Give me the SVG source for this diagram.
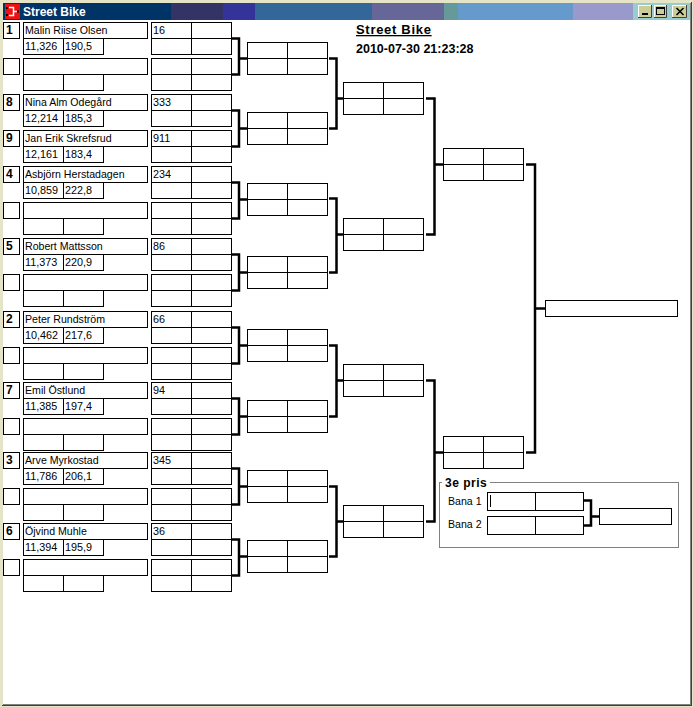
<svg xmlns="http://www.w3.org/2000/svg" xmlns:xlink="http://www.w3.org/1999/xlink" width="693" height="707" viewBox="0 0 693 707">
<style>
.b{fill:#fff;stroke:#000;stroke-width:1}
.l{fill:none;stroke:#000;stroke-width:1}
.c{fill:none;stroke:#000;stroke-width:2.5;stroke-linejoin:miter}
.t{font-family:"Liberation Sans",Arial,sans-serif;font-size:10.6px;fill:#000}
.n{font-family:"Liberation Sans",Arial,sans-serif;font-size:10.8px;fill:#000}
.s{font-family:"Liberation Sans",Arial,sans-serif;font-size:12px;font-weight:bold;fill:#000}
.btn{fill:#cccc99}
</style>
<defs>
<g id="ent">
<rect class="b" x="3.5" y="0.5" width="16" height="16"/>
<rect class="b" x="23.5" y="0.5" width="124" height="16"/>
<rect class="b" x="23.5" y="16.5" width="40" height="16"/>
<rect class="b" x="63.5" y="16.5" width="40" height="16"/>
<rect class="b" x="151.5" y="0.5" width="80" height="32"/>
<path class="l" d="M151.5,16.5H231.5M191.5,0.5V32.5"/>
</g>
<g id="rb">
<rect class="b" x="0.5" y="0.5" width="80" height="32"/>
<path class="l" d="M0.5,16.5H80.5M40.5,0.5V32.5"/>
</g>
</defs>

<!-- window chrome -->
<g id="window">
<rect x="0" y="0" width="693" height="707" fill="#e6e4c6"/>
<rect x="3" y="3" width="168" height="17" fill="#003366"/>
<rect x="171" y="3" width="52" height="17" fill="#333366"/>
<rect x="223" y="3" width="32" height="17" fill="#333399"/>
<rect x="255" y="3" width="117" height="17" fill="#336699"/>
<rect x="372" y="3" width="72" height="17" fill="#666699"/>
<rect x="444" y="3" width="14" height="17" fill="#669999"/>
<rect x="458" y="3" width="115" height="17" fill="#6699cc"/>
<rect x="573" y="3" width="60" height="17" fill="#9999cc"/>
<rect x="633" y="3" width="57" height="17" fill="#99cccc"/>
<rect x="5" y="4" width="15" height="15" fill="#ee1111"/>
<path d="M9,7.5H13.5V15.5H9M13.5,11.5H17" fill="none" stroke="#fff" stroke-width="1.5"/>
<rect x="6" y="7" width="2" height="2" fill="#000"/>
<rect x="6" y="14" width="2" height="2" fill="#000"/>
<rect x="17" y="10.5" width="2" height="2" fill="#000"/>
<text x="23" y="16" font-family="'Liberation Sans',Arial,sans-serif" font-size="12" font-weight="bold" fill="#fff">Street Bike</text>
<g id="btn-min">
<rect class="btn" x="638" y="5" width="14" height="13"/>
<path d="M638.5,17.5V5.5H651.5" fill="none" stroke="#fff"/>
<path d="M638,17.5H651.5V5" fill="none" stroke="#404040"/>
<rect x="642" y="13" width="6" height="2" fill="#000"/>
</g>
<g id="btn-max">
<rect class="btn" x="654" y="5" width="13" height="13"/>
<path d="M654.5,17.5V5.5H666.5" fill="none" stroke="#fff"/>
<path d="M654,17.5H666.5V5" fill="none" stroke="#404040"/>
<rect x="656.5" y="7.5" width="8" height="7" fill="none" stroke="#000"/>
<line x1="656.5" y1="8.5" x2="664.5" y2="8.5" stroke="#000"/>
</g>
<g id="btn-close">
<rect class="btn" x="672" y="5" width="15" height="13"/>
<path d="M672.5,17.5V5.5H686.5" fill="none" stroke="#fff"/>
<path d="M672,17.5H686.5V5" fill="none" stroke="#404040"/>
<path d="M676.5,8L683.5,15M683.5,8L676.5,15" fill="none" stroke="#000" stroke-width="1.6"/>
</g>
<rect x="3" y="20" width="687" height="684" fill="#fff"/>
<rect x="690" y="3" width="1" height="702" fill="#808080"/>
<rect x="691" y="2" width="1" height="704" fill="#404040"/>
<rect x="3" y="704" width="688" height="1" fill="#808080"/>
<rect x="2" y="705" width="690" height="1" fill="#404040"/>
</g>

<g id="header">
<text x="356" y="34" font-family="'Liberation Sans',Arial,sans-serif" font-size="13" font-weight="bold" letter-spacing="0.7" text-decoration="underline" fill="#000">Street Bike</text>
<text x="356" y="53" font-family="'Liberation Sans',Arial,sans-serif" font-size="12.5" font-weight="bold" fill="#000">2010-07-30 21:23:28</text>
</g>

<!-- entries -->
<g id="entry-1" transform="translate(0,22)"><use xlink:href="#ent"/><text class="s" x="6" y="12">1</text><text class="t" x="25" y="12">Malin Riise Olsen</text><text class="n" x="25" y="28">11,326</text><text class="n" x="65" y="28">190,5</text><text class="n" x="153" y="12">16</text></g>
<g id="entry-2" transform="translate(0,58)"><use xlink:href="#ent"/></g>
<g id="entry-3" transform="translate(0,94)"><use xlink:href="#ent"/><text class="s" x="6" y="12">8</text><text class="t" x="25" y="12">Nina Alm Odegård</text><text class="n" x="25" y="28">12,214</text><text class="n" x="65" y="28">185,3</text><text class="n" x="153" y="12">333</text></g>
<g id="entry-4" transform="translate(0,130)"><use xlink:href="#ent"/><text class="s" x="6" y="12">9</text><text class="t" x="25" y="12">Jan Erik Skrefsrud</text><text class="n" x="25" y="28">12,161</text><text class="n" x="65" y="28">183,4</text><text class="n" x="153" y="12">911</text></g>
<g id="entry-5" transform="translate(0,166)"><use xlink:href="#ent"/><text class="s" x="6" y="12">4</text><text class="t" x="25" y="12">Asbjörn Herstadagen</text><text class="n" x="25" y="28">10,859</text><text class="n" x="65" y="28">222,8</text><text class="n" x="153" y="12">234</text></g>
<g id="entry-6" transform="translate(0,202)"><use xlink:href="#ent"/></g>
<g id="entry-7" transform="translate(0,238)"><use xlink:href="#ent"/><text class="s" x="6" y="12">5</text><text class="t" x="25" y="12">Robert Mattsson</text><text class="n" x="25" y="28">11,373</text><text class="n" x="65" y="28">220,9</text><text class="n" x="153" y="12">86</text></g>
<g id="entry-8" transform="translate(0,274)"><use xlink:href="#ent"/></g>
<g id="entry-9" transform="translate(0,311)"><use xlink:href="#ent"/><text class="s" x="6" y="12">2</text><text class="t" x="25" y="12">Peter Rundström</text><text class="n" x="25" y="28">10,462</text><text class="n" x="65" y="28">217,6</text><text class="n" x="153" y="12">66</text></g>
<g id="entry-10" transform="translate(0,347)"><use xlink:href="#ent"/></g>
<g id="entry-11" transform="translate(0,382)"><use xlink:href="#ent"/><text class="s" x="6" y="12">7</text><text class="t" x="25" y="12">Emil Östlund</text><text class="n" x="25" y="28">11,385</text><text class="n" x="65" y="28">197,4</text><text class="n" x="153" y="12">94</text></g>
<g id="entry-12" transform="translate(0,418)"><use xlink:href="#ent"/></g>
<g id="entry-13" transform="translate(0,452)"><use xlink:href="#ent"/><text class="s" x="6" y="12">3</text><text class="t" x="25" y="12">Arve Myrkostad</text><text class="n" x="25" y="28">11,786</text><text class="n" x="65" y="28">206,1</text><text class="n" x="153" y="12">345</text></g>
<g id="entry-14" transform="translate(0,488)"><use xlink:href="#ent"/></g>
<g id="entry-15" transform="translate(0,523)"><use xlink:href="#ent"/><text class="s" x="6" y="12">6</text><text class="t" x="25" y="12">Öjvind Muhle</text><text class="n" x="25" y="28">11,394</text><text class="n" x="65" y="28">195,9</text><text class="n" x="153" y="12">36</text></g>
<g id="entry-16" transform="translate(0,559)"><use xlink:href="#ent"/></g>

<!-- round 2 -->
<g id="r2-1" transform="translate(247,42)"><use xlink:href="#rb"/></g>
<g id="r2-2" transform="translate(247,112)"><use xlink:href="#rb"/></g>
<g id="r2-3" transform="translate(247,183)"><use xlink:href="#rb"/></g>
<g id="r2-4" transform="translate(247,256)"><use xlink:href="#rb"/></g>
<g id="r2-5" transform="translate(247,329)"><use xlink:href="#rb"/></g>
<g id="r2-6" transform="translate(247,400)"><use xlink:href="#rb"/></g>
<g id="r2-7" transform="translate(247,470)"><use xlink:href="#rb"/></g>
<g id="r2-8" transform="translate(247,540)"><use xlink:href="#rb"/></g>
<!-- round 3 -->
<g id="r3-1" transform="translate(343,82)"><use xlink:href="#rb"/></g>
<g id="r3-2" transform="translate(343,218)"><use xlink:href="#rb"/></g>
<g id="r3-3" transform="translate(343,364)"><use xlink:href="#rb"/></g>
<g id="r3-4" transform="translate(343,505)"><use xlink:href="#rb"/></g>
<!-- round 4 -->
<g id="r4-1" transform="translate(443,148)"><use xlink:href="#rb"/></g>
<g id="r4-2" transform="translate(443,436)"><use xlink:href="#rb"/></g>
<!-- final -->
<g id="final"><rect class="b" x="545.5" y="300.5" width="132" height="16"/></g>

<!-- 3rd prize -->
<g id="third-prize">
<rect x="439.5" y="482.5" width="239" height="65" fill="none" stroke="#808080"/>
<rect x="442" y="476" width="48" height="12" fill="#fff"/>
<text x="445" y="487" font-family="'Liberation Sans',Arial,sans-serif" font-size="12" font-weight="bold" letter-spacing="0.5" fill="#000">3e pris</text>
<g id="bana-1">
<text class="t" x="448" y="505">Bana 1</text>
<rect class="b" x="487.5" y="492.5" width="96" height="18"/>
<line class="l" x1="535.5" y1="492.5" x2="535.5" y2="510.5"/>
<line x1="490.5" y1="495" x2="490.5" y2="507" stroke="#000"/>
</g>
<g id="bana-2">
<text class="t" x="448" y="528">Bana 2</text>
<rect class="b" x="487.5" y="516.5" width="96" height="18"/>
<line class="l" x1="535.5" y1="516.5" x2="535.5" y2="534.5"/>
</g>
<g id="third-final"><rect class="b" x="599.5" y="508.5" width="72" height="16"/></g>
</g>

<g id="connectors">
<path class="c" d="M232,38.5H239V74.5H232M239,58.5H247"/>
<path class="c" d="M232,110.5H239V146.5H232M239,128.5H247"/>
<path class="c" d="M232,182.5H239V218.5H232M239,199.5H247"/>
<path class="c" d="M232,254.5H239V290.5H232M239,272.5H247"/>
<path class="c" d="M232,327.5H239V363.5H232M239,345.5H247"/>
<path class="c" d="M232,398.5H239V434.5H232M239,416.5H247"/>
<path class="c" d="M232,468.5H239V504.5H232M239,486.5H247"/>
<path class="c" d="M232,539.5H239V575.5H232M239,556.5H247"/>
<path class="c" d="M329,58.5H336.5V128.5H329M336.5,98.5H344"/>
<path class="c" d="M329,198.5H336.5V272.5H329M336.5,234.5H344"/>
<path class="c" d="M329,345.5H336.5V416.5H329M336.5,380.5H344"/>
<path class="c" d="M329,486.5H336.5V556.5H329M336.5,521.5H344"/>
<path class="c" d="M426,98.5H434.5V234.5H426M434.5,164.5H443"/>
<path class="c" d="M426,380.5H434.5V521.5H426M434.5,452.5H443"/>
<path class="c" d="M526,164.5H535V452.5H526M535,308.5H545"/>
<path class="c" d="M584,500.5H591V525.5H584M591,516.5H599"/>
</g>
</svg>
